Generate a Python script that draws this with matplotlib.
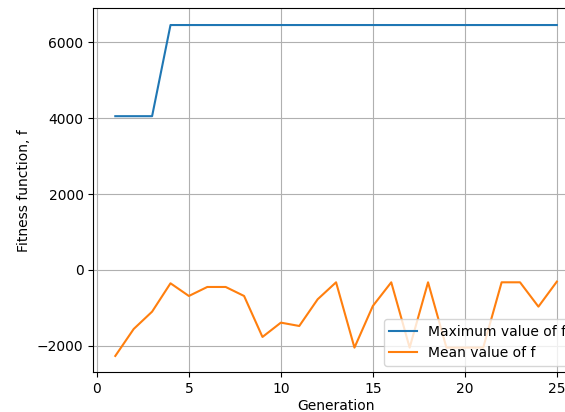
import numpy as np
import matplotlib.pyplot as plt

generations = np.arange(1, 26)
max_f = [4050, 4050, 4050, 6450, 6450, 6450, 6450, 6450, 6450, 6450,
         6450, 6450, 6450, 6450, 6450, 6450, 6450, 6450, 6450, 6450,
         6450, 6450, 6450, 6450, 6450]
mean_f = [-2263, -1553, -1097, -350, -684, -447, -447, -684, -1763, -1386,
          -1474, -771, -324, -2044, -947, -324, -2044, -324, -2044, -2044,
          -2044, -324, -324, -965, -307]

fig = plt.figure(figsize=(5.65, 4.12), dpi=100)
# the reference is cropped on the right, so the axes run past the figure edge
ax = fig.add_axes([0.165, 0.0959, 0.8596, 0.8835])
ax.plot(generations, max_f, label='Maximum value of f')
ax.plot(generations, mean_f, label='Mean value of f')
ax.set_xlabel('Generation', labelpad=2)
ax.set_ylabel('Fitness function, f')
ax.grid(True)
ax.legend(loc='lower right')
fig.savefig('out.png', dpi=100)
